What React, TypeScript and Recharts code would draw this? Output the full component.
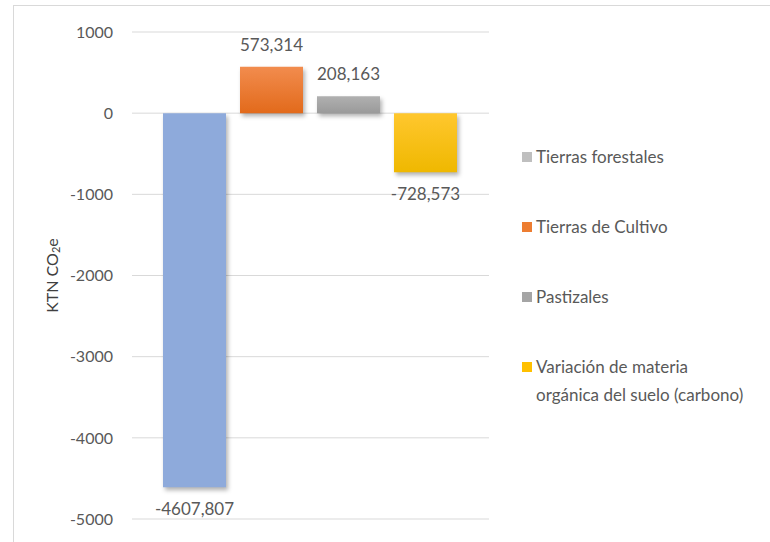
import React from "react";
import {
  BarChart,
  Bar,
  XAxis,
  YAxis,
  CartesianGrid,
  LabelList,
} from "recharts";

// series, one bar each, all in the same category
const seriesKeys = ["forestales", "cultivo", "pastizales", "variacion"];
const seriesNames = [
  "Tierras forestales",
  "Tierras de Cultivo",
  "Pastizales",
  "Variación de materia orgánica del suelo (carbono)",
];
const seriesValues = [-4607.807, 573.314, 208.163, -728.573];
const yTicks = [1000, 0, -1000, -2000, -3000, -4000, -5000];

const barFills = ["#8eaadb", "url(#gradOrange)", "url(#gradGray)", "url(#gradYellow)"];
const legendColors = ["#bfbfbf", "#ed7d31", "#a5a5a5", "#ffc000"];

const FONT = "Lato, 'Open Sans', sans-serif";
const TEXT = "#595959";

const row: Record<string, number | string> = { name: "" };
seriesKeys.forEach((k, i) => {
  row[k] = seriesValues[i];
});
const data = [row];

const fmt = (v: any) => Number(v).toFixed(3).replace(".", ",");

function AxisTitle(props: any) {
  const vb = props.viewBox || {};
  const cx = (vb.x ?? 0) + 51;
  const cy = (vb.y ?? 0) + (vb.height ?? 0) / 2;
  return (
    <text
      x={cx}
      y={cy}
      transform={`rotate(-90, ${cx}, ${cy})`}
      textAnchor="middle"
      dominantBaseline="central"
      fill="#404040"
      fontSize={16}
      fontFamily={FONT}
    >
      KTN CO
      <tspan fontSize={11} dy={4}>
        2
      </tspan>
      <tspan dy={-4}>e</tspan>
    </text>
  );
}

function LegendBox() {
  return (
    <div
      style={{
        position: "absolute",
        left: 522,
        top: 143,
        fontFamily: FONT,
        fontSize: 17,
        color: TEXT,
      }}
    >
      {seriesNames.map((n, i) => (
        <div
          key={n}
          style={{
            display: "flex",
            alignItems: "flex-start",
            lineHeight: "28px",
            height: i < seriesNames.length - 1 ? 70 : "auto",
          }}
        >
          <span
            style={{
              display: "inline-block",
              width: 10,
              height: 10,
              marginTop: 9,
              marginRight: 4,
              flex: "0 0 auto",
              background: legendColors[i],
            }}
          />
          <span style={{ width: 208 }}>{n}</span>
        </div>
      ))}
    </div>
  );
}

export default function App() {
  return (
    <div
      style={{
        position: "absolute",
        left: 0,
        top: 0,
        width: 770,
        height: 542,
        overflow: "hidden",
        background: "#fff",
      }}
    >
      <style>{`.recharts-bar-rectangle path { filter: drop-shadow(2px 3px 2px rgba(0,0,0,0.3)); }`}</style>
      <div
        style={{
          position: "absolute",
          left: 13,
          top: 5,
          width: 790,
          height: 580,
          border: "1px solid #d9d9d9",
        }}
      />
      <div style={{ position: "absolute", left: 0, top: 0 }}>
        <BarChart
          width={770}
          height={542}
          data={data}
          margin={{ top: 32, right: 281, bottom: 23, left: 0 }}
          barCategoryGap={31}
          barGap={14}
        >
          <defs>
            <linearGradient id="gradOrange" x1="0" y1="0" x2="0" y2="1">
              <stop offset="0%" stopColor="#f28c4e" />
              <stop offset="100%" stopColor="#e26a1b" />
            </linearGradient>
            <linearGradient id="gradGray" x1="0" y1="0" x2="0" y2="1">
              <stop offset="0%" stopColor="#b0b0b0" />
              <stop offset="100%" stopColor="#9a9a9a" />
            </linearGradient>
            <linearGradient id="gradYellow" x1="0" y1="0" x2="0" y2="1">
              <stop offset="0%" stopColor="#ffc72e" />
              <stop offset="100%" stopColor="#efb800" />
            </linearGradient>
          </defs>
          <CartesianGrid vertical={false} stroke="#d9d9d9" strokeWidth={1} />
          <XAxis dataKey="name" hide />
          <YAxis
            width={132}
            domain={[-5000, 1000]}
            ticks={yTicks}
            interval={0}
            axisLine={false}
            tickLine={false}
            tickMargin={13}
            tick={{ fill: TEXT, fontSize: 16, fontFamily: FONT }}
            label={<AxisTitle />}
          />
          {seriesKeys.map((k, i) => (
            <Bar
              key={k}
              dataKey={k}
              name={seriesNames[i]}
              fill={barFills[i]}
              isAnimationActive={false}
            >
              <LabelList
                dataKey={k}
                position="top"
                offset={16}
                formatter={fmt}
                fill={TEXT}
                fontSize={17}
                fontFamily={FONT}
              />
            </Bar>
          ))}
        </BarChart>
      </div>
      <LegendBox />
    </div>
  );
}
